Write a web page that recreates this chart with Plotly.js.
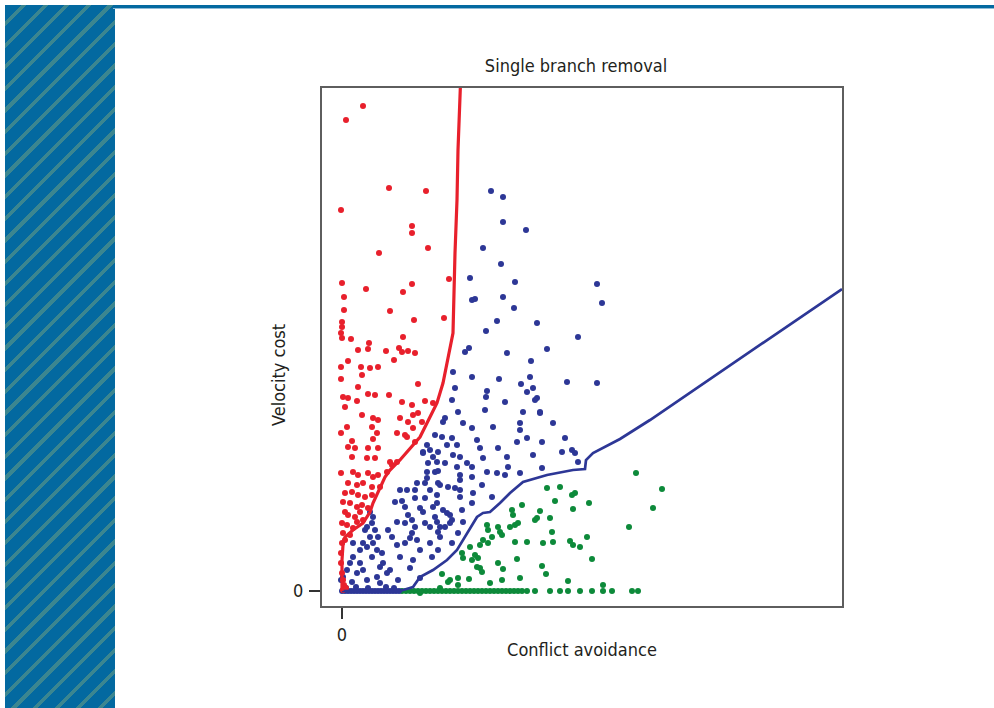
<!DOCTYPE html>
<html>
<head>
<meta charset="utf-8">
<script src="https://cdn.plot.ly/plotly-3.0.1.min.js"></script>
<style>
  html, body { margin:0; padding:0; background:#ffffff; }
  #wrap { position:relative; width:994px; height:708px; overflow:hidden; background:#fff; }
  #band { position:absolute; left:5px; top:5px; width:110px; height:703px;
    background: repeating-linear-gradient(135deg, #0369a0 0px, #0369a0 11.6px, #3b8690 11.6px, #3b8690 15.3px); }
  #topline { position:absolute; left:113px; top:5px; width:881px; height:3px; background:#0369a0; }
  #topline2 { position:absolute; left:113px; top:8px; width:881px; height:1px; background:#8fbbd6; }
  #chart { position:absolute; left:0; top:0; width:994px; height:708px; }
</style>
</head>
<body>
<div id="wrap">
  <div id="band"></div>
  <div id="topline"></div>
  <div id="topline2"></div>
  <div id="chart"></div>
</div>
<script>
// Units are arbitrary (the original shows only the 0 tick on each axis)
const chartTitle = "Single branch removal";
const xTitle = "Conflict avoidance";
const yTitle = "Velocity cost";
const xTickVals = [0];
const xTickText = ["0"];
const yTickVals = [0];
const yTickText = ["0"];

// Red group (left of red boundary)
const redX = [21,4,47,84,-1,70,70,86,37,107,0,24,70,61,2,48,2,72,102,0,0,-1,0,9,61,27,16,26,44,57,60,66,73,52,6,-1,19,28,36,20,-1,76,16,26,33,47,1,6,15,60,70,83,91,3,20,31,36,58,71,76,5,30,35,-1,55,65,10,31,6,13,26,36,73,10,25,33,55,50,-1,11,16,26,31,36,45,6,15,21,30,38,3,10,16,23,30,1,8,15,20,26,3,6,13,18,21,0,5,11,15,1,8,0,3,-1,-1,0,1,66,80,71,63,48,2,4,1];
const redY = [485,471,403,400,381,365,358,343,338,312,308,302,307,299,294,280,281,271,273,269,264,258,253,252,254,248,241,242,240,243,239,240,238,231,230,224,224,223,224,216,212,207,204,197,196,196,194,193,190,189,186,190,188,184,176,173,171,173,176,178,164,164,158,158,158,154,150,152,144,143,143,143,149,134,133,133,129,126,118,119,116,118,114,116,119,108,106,108,104,104,98,99,96,94,96,89,88,84,86,83,79,76,74,79,71,68,66,63,69,58,56,48,51,38,28,18,11,169,169,163,156,129,6,3,1];

// Blue group (between the two boundaries)
const blueX = [149,161,161,184,141,159,128,173,255,260,130,133,161,172,155,195,144,236,123,127,165,205,189,111,130,157,179,188,191,225,255,113,145,144,195,110,163,116,143,181,198,103,101,121,130,151,178,178,211,93,100,110,135,175,185,200,223,85,88,105,115,138,156,81,96,111,118,125,130,141,165,191,220,230,233,236,91,95,103,85,115,118,118,130,145,155,166,178,200,163,85,96,140,58,65,73,75,88,95,106,113,118,118,131,150,53,63,83,91,95,101,105,108,110,108,103,98,95,93,78,81,66,120,121,130,83,88,96,98,116,110,55,63,70,73,70,68,46,50,55,63,75,88,96,78,58,71,90,48,68,56,38,78,28,31,30,25,23,33,36,28,21,25,31,35,40,30,18,11,11,8,18,21,15,5,1,10,-1,25,35,41,45,38,185,193,198,81,93,98,83,60,73,96,86,0,3,6,9,12,15,18,21,24,27,30,33,36,39,42,45,48,51,54,57,4,14,26,44,52];
const blueY = [400,394,369,361,343,327,313,309,307,288,291,292,294,283,270,268,260,254,239,243,238,242,230,219,214,212,207,214,203,209,208,203,200,194,193,191,189,179,181,179,179,173,169,168,163,164,168,161,168,156,154,153,151,149,153,149,153,146,141,146,146,143,143,139,139,136,134,128,124,133,134,136,139,141,138,129,134,129,128,119,124,116,111,114,119,118,124,118,123,116,113,108,106,101,101,101,108,101,96,104,103,101,94,98,94,89,84,93,84,88,81,78,76,71,68,64,64,69,74,83,79,76,81,69,88,68,64,59,54,58,48,69,68,71,64,58,53,61,54,46,48,51,48,41,41,34,31,34,21,23,11,24,13,79,74,68,64,61,61,54,54,48,44,48,41,38,34,41,48,34,28,28,21,18,21,14,9,11,11,14,28,18,8,199,191,178,138,119,106,108,90,93,120,128,0,0,0,0,0,0,0,0,0,0,0,0,0,0,0,0,0,0,0,0,3,4,3,4,3];

// Green group (below blue boundary)
const greenX = [294,320,311,287,205,218,230,233,213,247,231,180,170,171,198,193,195,208,168,173,176,145,146,156,158,160,150,210,141,138,146,173,185,201,211,228,231,238,245,128,120,121,133,136,130,156,175,250,138,140,161,200,204,100,108,127,116,226,106,116,261,78,135,178,160,148,98,60,64,68,72,76,80,84,88,92,96,100,104,108,112,116,120,124,128,132,136,140,144,148,152,156,160,164,168,172,176,180,185,193,208,218,226,238,250,261,270,290,296];
const greenY = [118,102,83,64,103,104,96,98,90,88,82,86,81,76,80,71,73,73,64,66,68,66,61,64,59,56,54,59,51,46,48,49,49,48,49,50,46,44,54,44,38,33,36,33,31,28,32,32,23,19,22,25,17,17,11,12,13,10,9,6,6,-2,24,13,11,8,3,0,0,0,0,0,0,0,0,0,0,0,0,0,0,0,0,0,0,0,0,0,0,0,0,0,0,0,0,0,0,0,0,0,0,0,0,0,0,0,0,0,0];

// Decision boundaries
const redLineX = [0,0,1,3,11,21,28,31,43,48,58,78,88,95,101,108,111,113,115,116,118,119];
const redLineY = [0,31,46,54,61,68,79,88,114,121,131,154,174,188,208,241,258,338,391,441,503,521];
const blueLineX = [0,58,71,78,91,105,115,125,135,141,148,158,168,181,205,231,243,244,251,278,308,500];
const blueLineY = [0,0,4,14,21,31,41,58,74,78,79,88,98,109,116,121,122,131,138,152,171,302];

const RED = "#e8202c", BLUE = "#2d3796", GREEN = "#0d8a3a";
const FONT = "'Liberation Sans Narrow', 'Arial Narrow', 'DejaVu Sans Condensed', sans-serif";
const TXT = "#231f20";

const mk = (c) => ({ color: c, size: 6, line: { width: 0 } });
const traces = [
  { x: greenX, y: greenY, type: "scatter", mode: "markers", marker: mk(GREEN), name: "green" },
  { x: blueX, y: blueY, type: "scatter", mode: "markers", marker: mk(BLUE), name: "blue" },
  { x: redX, y: redY, type: "scatter", mode: "markers", marker: mk(RED), name: "red" },
  { x: blueLineX, y: blueLineY, type: "scatter", mode: "lines", line: { color: BLUE, width: 2.7 }, name: "blue boundary" },
  { x: redLineX, y: redLineY, type: "scatter", mode: "lines", line: { color: RED, width: 3.2 }, name: "red boundary" }
];

const axisBase = {
  showgrid: false, zeroline: false, showline: true, mirror: true,
  linecolor: "#5e5e5e", linewidth: 2,
  ticks: "outside", ticklen: 11, tickwidth: 2, tickcolor: "#333",
  tickfont: { family: FONT, size: 18, color: TXT },
  automargin: false, fixedrange: true
};

const layout = {
  width: 994, height: 708,
  margin: { l: 322, r: 152, t: 88, b: 102, pad: 0 },
  paper_bgcolor: "rgba(0,0,0,0)",
  plot_bgcolor: "#ffffff",
  showlegend: false,
  hovermode: false,
  title: { text: chartTitle, x: 0.4885, xref: "paper", xanchor: "center",
           y: 1 - 66/708, yref: "container", yanchor: "middle",
           font: { family: FONT, size: 18, color: TXT } },
  xaxis: Object.assign({}, axisBase, {
    range: [-20, 500], tickvals: xTickVals, ticktext: xTickText,
    ticklabelstandoff: 0,
    title: { text: xTitle, standoff: 0, font: { family: FONT, size: 18, color: TXT } }
  }),
  yaxis: Object.assign({}, axisBase, {
    range: [-15, 503], tickvals: yTickVals, ticktext: yTickText,
    ticklabelstandoff: 2
  }),
  annotations: [{
    text: yTitle, textangle: -90, showarrow: false,
    xref: "paper", yref: "paper", x: (278 - 322) / 520, y: (606 - 375) / 518,
    xanchor: "center", yanchor: "middle",
    font: { family: FONT, size: 18, color: TXT }
  }]
};

Plotly.newPlot("chart", traces, layout, { staticPlot: true, displayModeBar: false });
</script>
</body>
</html>
